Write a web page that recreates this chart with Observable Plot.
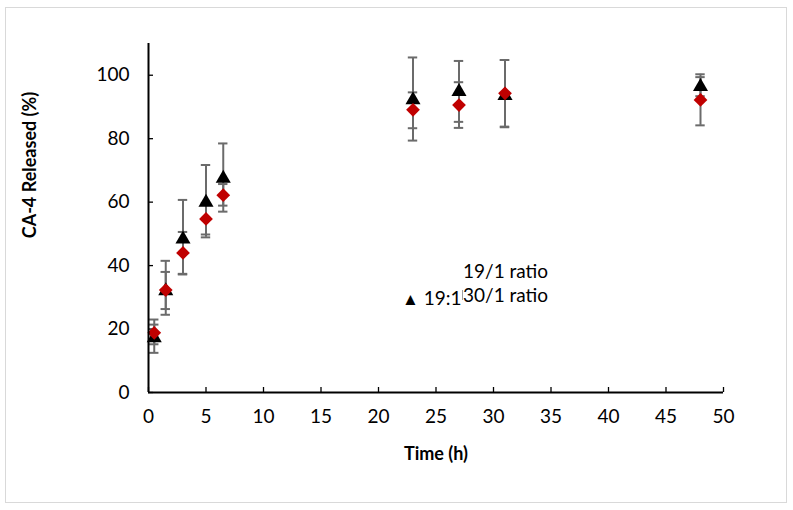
<!DOCTYPE html>
<html>
<head>
<meta charset="utf-8">
<script src="https://cdn.jsdelivr.net/npm/d3@7"></script>
<script src="https://cdn.jsdelivr.net/npm/@observablehq/plot@0.6"></script>
<style>
  html, body { margin: 0; padding: 0; background: #fff; }
  #wrap { position: relative; width: 793px; height: 510px; font-family: Lato, "Open Sans", sans-serif; }
  #frame { position: absolute; left: 5px; top: 7px; width: 780px; height: 494px; border: 1.5px solid #d9d9d9; pointer-events: none; }
  .lbl { position: absolute; color: #000; white-space: nowrap; }
</style>
</head>
<body>
<div id="wrap">
  <div id="chart"></div>
  <div id="frame"></div>
  <div class="lbl" style="left:0;top:442px;width:872px;text-align:center;font-weight:bold;font-size:18px;">Time (h)</div>
  <div class="lbl" style="left:29px;top:165px;font-weight:bold;font-size:18px;transform:translate(-50%,-50%) rotate(-90deg);">CA-4 Released (%)</div>
  <div class="lbl" style="left:463px;top:259px;font-size:19px;">19/1 ratio</div>
  <div class="lbl" style="left:463px;top:283px;font-size:19px;">30/1 ratio</div>
  <div class="lbl" style="left:402px;top:286px;font-size:19px;"><span style="font-size:17px;">▲</span> 19:1</div>
  <div style="position:absolute;left:462px;top:290px;width:1px;height:10px;background:#a0a0a0;"></div>
</div>
<script>
const time = [0.5, 1.5, 3, 5, 6.5, 23, 27, 31, 48];
const ratio19 = [17.2, 32.0, 48.3, 59.9, 67.5, 92.2, 94.8, 93.6, 96.4];
const low19 = [12.5, 24.5, 37.2, 48.9, 57.0, 79.4, 85.3, 83.6, 93.4];
const high19 = [23.0, 41.5, 60.7, 71.7, 78.5, 105.6, 104.5, 104.8, 99.4];
const ratio30 = [18.8, 32.3, 44.0, 54.7, 62.2, 89.1, 90.6, 94.3, 92.2];
const low30 = [15.2, 26.3, 37.4, 49.8, 58.9, 83.3, 83.4, 83.8, 84.2];
const high30 = [21.4, 38.0, 50.6, 59.7, 65.7, 94.6, 97.8, 104.8, 100.3];
const xTicks = [0, 5, 10, 15, 20, 25, 30, 35, 40, 45, 50];
const yTicks = [0, 20, 40, 60, 80, 100];

const s19 = time.map((t, i) => ({t, v: ratio19[i], lo: low19[i], hi: high19[i]}));
const s30 = time.map((t, i) => ({t, v: ratio30[i], lo: low30[i], hi: high30[i]}));
const errs = [...s19, ...s30];
const caps = errs.flatMap(d => [{t: d.t, y: d.lo}, {t: d.t, y: d.hi}]);

const barColor = "#6b6b6b";
const chart = Plot.plot({
  width: 793,
  height: 510,
  marginLeft: 148,
  marginRight: 70,
  marginTop: 43,
  marginBottom: 118,
  style: {fontFamily: "Lato, 'Open Sans', sans-serif", fontSize: "19px", color: "#000", background: "#fff"},
  x: {domain: [0, 50], ticks: xTicks},
  y: {domain: [0, 110], ticks: yTicks},
  marks: [
    Plot.axisX({ticks: xTicks, tickSize: -5, tickFormat: () => "", label: null, strokeWidth: 1.3}),
    Plot.axisX({ticks: xTicks, tickSize: 0, tickPadding: 17, label: null, fontSize: 19}),
    Plot.axisY({ticks: yTicks, tickSize: -5, tickFormat: () => "", label: null, strokeWidth: 1.3}),
    Plot.axisY({ticks: yTicks, tickSize: 0, tickPadding: 19, label: null, fontSize: 19}),
    Plot.ruleX(errs, {x: "t", y1: "lo", y2: "hi", stroke: barColor, strokeWidth: 2}),
    Plot.ruleY(caps, {x1: "t", x2: "t", y: "y", stroke: barColor, strokeWidth: 2, insetLeft: -4.7, insetRight: -4.7}),
    Plot.dot(s19, {x: "t", y: "v", symbol: "triangle", r: 5.6, fill: "#000", stroke: "none"}),
    Plot.dot(s30, {x: "t", y: "v", symbol: "diamond2", r: 6.2, fill: "#c00000", stroke: "none"}),
    Plot.ruleX([0], {stroke: "#000", strokeWidth: 2}),
    Plot.ruleY([0], {stroke: "#000", strokeWidth: 2})
  ]
});
document.getElementById("chart").appendChild(chart);
</script>
</body>
</html>
